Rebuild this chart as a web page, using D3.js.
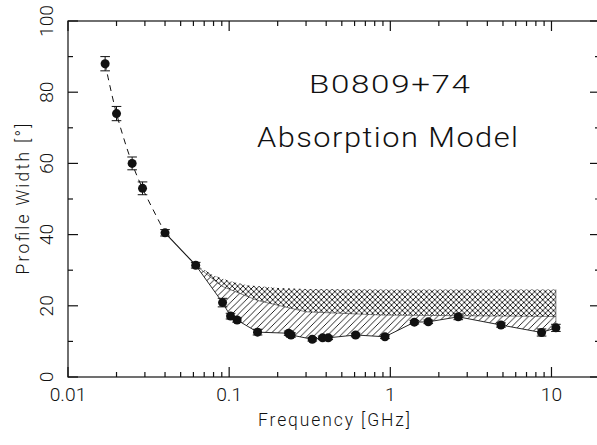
<!DOCTYPE html>
<html><head><meta charset="utf-8">
<script src="https://cdn.jsdelivr.net/npm/d3@7"></script>
<style>
html,body{margin:0;padding:0;background:#fff;}
svg{display:block;}
text{font-family:"Roboto","Liberation Sans",sans-serif;font-weight:300;fill:#111;}
</style></head>
<body>
<svg id="c" width="597" height="445"></svg>
<script>
// ---- data ----
const freq  = [0.017,0.020,0.025,0.029,0.040,0.062,0.091,0.102,0.112,0.150,0.234,0.242,0.328,0.380,0.412,0.609,0.926,1.41,1.72,2.64,4.86,8.68,10.65];
const widthDeg = [88.0,74.0,60.0,53.0,40.5,31.4,20.9,17.1,16.0,12.6,12.3,11.8,10.6,11.0,11.0,11.8,11.3,15.4,15.5,16.9,14.6,12.5,13.8];
const errDeg = [2.0,2.0,1.8,1.8,0.9,0.8,1.2,0.8,0.6,0.8,0.6,0.6,0.5,0.5,0.5,0.5,0.5,0.5,0.5,0.8,0.6,1.0,1.0];
const upperF = [0.062,0.08,0.10,0.13,0.20,0.30,1.0,10.65];
const upperV = [31.4,28.6,27.0,25.8,25.0,24.7,24.6,24.6];
const midF = [0.062,0.09,0.15,0.30,0.90,10.65];
const midV = [31.4,25.5,21.5,18.3,17.4,17.0];
const xTicks = [0.01,0.1,1,10];
const xTickLabels = ["0.01","0.1","1","10"];
const yTicks = [0,20,40,60,80,100];
const title1 = "B0809+74", title2 = "Absorption Model";
const xLabel = "Frequency [GHz]", yLabel = "Profile Width [°]";

// ---- layout ----
const L=68, R=600, T=21, B=377;
const svg = d3.select("#c");
const x = d3.scaleLog().domain([0.01,20]).range([L,R]);
const y = d3.scaleLinear().domain([0,100]).range([B,T]);

const defs = svg.append("defs");
const ch = defs.append("pattern").attr("id","cross").attr("patternUnits","userSpaceOnUse")
  .attr("width",5.4).attr("height",5.4);
ch.append("path").attr("d","M0,0L5.4,5.4M5.4,0L0,5.4").attr("stroke","#111").attr("stroke-width",0.9);
const dh = defs.append("pattern").attr("id","diag").attr("patternUnits","userSpaceOnUse")
  .attr("width",6.5).attr("height",6.5);
dh.append("path").attr("d","M0,6.5L6.5,0M-1,1L1,-1M5.5,7.5L7.5,5.5").attr("stroke","#111").attr("stroke-width",0.9);

const upper = upperF.map((f,i)=>[x(f),y(upperV[i])]);
const mid = midF.map((f,i)=>[x(f),y(midV[i])]);
const dataPts = freq.map((f,i)=>[x(f),y(widthDeg[i])]);
const lowerPts = dataPts.slice(5);

const line = d3.line();
svg.append("path").attr("d", line(upper.concat(mid.slice().reverse()))+"Z")
  .attr("fill","url(#cross)").attr("stroke","none");
svg.append("path").attr("d", line(mid.concat(lowerPts.slice().reverse()))+"Z")
  .attr("fill","url(#diag)").attr("stroke","none");
svg.append("path").attr("d", line(mid)).attr("fill","none").attr("stroke","#111").attr("stroke-width",0.5);
svg.append("path").attr("d", line(lowerPts)).attr("fill","none").attr("stroke","#111").attr("stroke-width",0.9);
svg.append("line").attr("x1",x(upperF[upperF.length-1])).attr("x2",x(upperF[upperF.length-1]))
  .attr("y1",y(upperV[upperV.length-1])).attr("y2",y(widthDeg[widthDeg.length-1]))
  .attr("stroke","#111").attr("stroke-width",0.5);

// dashed model curve through low-frequency points, solid segment to next
svg.append("path").attr("d", d3.line().curve(d3.curveCatmullRom)(dataPts.slice(0,5)))
  .attr("fill","none").attr("stroke","#111").attr("stroke-width",1).attr("stroke-dasharray","6,5");
svg.append("path").attr("d", line(dataPts.slice(4,6)))
  .attr("fill","none").attr("stroke","#111").attr("stroke-width",1.1);

// error bars
const eb = svg.append("g").attr("stroke","#111").attr("stroke-width",1);
freq.forEach((f,i)=>{
  const cx=x(f), y1=y(widthDeg[i]+errDeg[i]), y2=y(widthDeg[i]-errDeg[i]);
  eb.append("line").attr("x1",cx).attr("x2",cx).attr("y1",y1).attr("y2",y2);
  eb.append("line").attr("x1",cx-4.8).attr("x2",cx+4.8).attr("y1",y1).attr("y2",y1);
  eb.append("line").attr("x1",cx-4.8).attr("x2",cx+4.8).attr("y1",y2).attr("y2",y2);
});
svg.append("g").selectAll("circle").data(freq).join("circle")
  .attr("cx",d=>x(d)).attr("cy",(d,i)=>y(widthDeg[i])).attr("r",4.5).attr("fill","#111");

// frame and ticks
const ax = svg.append("g").attr("stroke","#111").attr("stroke-width",1.2).attr("fill","none");
ax.append("rect").attr("x",L).attr("y",T).attr("width",R-L).attr("height",B-T);
const minorX = [];
[0.01,0.1,1,10].forEach(d=>{ for(let k=2;k<=9;k++){ const v=d*k; if(v<=20) minorX.push(v);} });
minorX.forEach(v=>{
  ax.append("line").attr("x1",x(v)).attr("x2",x(v)).attr("y1",B).attr("y2",B-5);
  ax.append("line").attr("x1",x(v)).attr("x2",x(v)).attr("y1",T).attr("y2",T+5);
});
xTicks.forEach(v=>{
  ax.append("line").attr("x1",x(v)).attr("x2",x(v)).attr("y1",B).attr("y2",B-10);
  ax.append("line").attr("x1",x(v)).attr("x2",x(v)).attr("y1",T).attr("y2",T+10);
});
d3.range(0,101,10).forEach(v=>{
  const len = v%20===0 ? 10 : 5;
  ax.append("line").attr("x1",L).attr("x2",L+len).attr("y1",y(v)).attr("y2",y(v));
  ax.append("line").attr("x1",R).attr("x2",R-len).attr("y1",y(v)).attr("y2",y(v));
});

// tick labels
svg.append("g").selectAll("text").data(xTicks).join("text")
  .attr("transform",d=>`translate(${x(d)},401) scale(1.1,1)`).attr("text-anchor","middle").attr("font-size",17.5)
  .text((d,i)=>xTickLabels[i]);
svg.append("g").selectAll("text").data(yTicks).join("text")
  .attr("transform",d=>`translate(53,${y(d)}) rotate(-90) scale(1.1,1)`).attr("text-anchor","middle")
  .attr("font-size",17.5).text(d=>d);

// axis labels
svg.append("text").attr("x",334).attr("y",426).attr("text-anchor","middle").attr("font-size",17.5)
  .attr("textLength",152).attr("lengthAdjust","spacing").text(xLabel);
svg.append("text").attr("transform",`translate(29,${(T+B)/2}) rotate(-90)`).attr("text-anchor","middle")
  .attr("font-size",17.5).attr("textLength",151).attr("lengthAdjust","spacing").text(yLabel);

// titles
svg.append("text").attr("transform","translate(389.5,93) scale(1.3,1)").attr("text-anchor","middle").attr("font-size",25.5)
  .attr("textLength",161/1.3).attr("lengthAdjust","spacing").text(title1);
svg.append("text").attr("transform","translate(387.5,146.5) scale(1.1,1)").attr("text-anchor","middle").attr("font-size",28)
  .attr("textLength",261/1.1).attr("lengthAdjust","spacing").text(title2);
</script>
</body></html>
